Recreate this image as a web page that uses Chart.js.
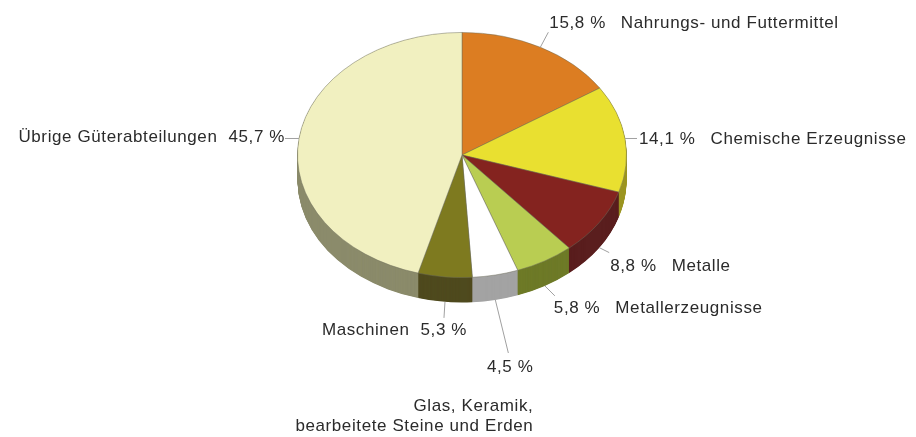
<!DOCTYPE html>
<html>
<head>
<meta charset="utf-8">
<script src="https://cdn.jsdelivr.net/npm/chart.js@4"></script>
<style>
  body { margin: 0; background: #fff; }
  #wrap { width: 916px; height: 437px; }
</style>
</head>
<body>
<div id="wrap"><canvas id="shareChart"></canvas></div>
<script>
// Anteile der Güterabteilungen (%)
const categories = [
    'Nahrungs- und Futtermittel',
    'Chemische Erzeugnisse',
    'Metalle',
    'Metallerzeugnisse',
    ['Glas, Keramik,', 'bearbeitete Steine und Erden'],
    'Maschinen',
    'Übrige Güterabteilungen'
];
const shares = [15.8, 14.1, 8.8, 5.8, 4.5, 5.3, 45.7];
const valueLabels = shares.map(v => v.toFixed(1).replace('.', ',') + ' %');

const topColors = ['#dc7d22', '#e9e030', '#84231f', '#b9cd52', '#ffffff', '#7e7a1f', '#f1f0c0'];
const sideColors = ['#9a5a1a', '#9c9520', '#5a1e1e', '#6e7a28', '#a3a3a3', '#4f4a1e', '#8b8b6b'];

// 3D look
const TILT = 0.745;   // vertical squash of the top face
const TOP_Y = 155;    // screen y of pie centre
const DEPTH = 25;     // side wall height in px

// where each label goes, relative to the slice edge
const labelLayout = [
    { dx: 8, dy: -15, side: 'right', tx: 1, ty: -9 },
    { dx: 12, dy: 0, side: 'right', tx: 2, ty: 1 },
    { dx: 10, dy: 5, side: 'right', tx: 1, ty: 14 },
    { dx: 10, dy: 10, side: 'right', tx: -1, ty: 12 },
    { dx: 13, dy: 53, side: 'below', tx: 25, ty: 14 },
    { dx: -1, dy: 16, side: 'left', tx: 23, ty: 12 },
    { dx: -14, dy: 0, side: 'left', tx: 0, ty: -1 }
];

function squash(ctx, cy) {
    ctx.translate(0, TOP_Y);
    ctx.scale(1, TILT);
    ctx.translate(0, -cy);
}

const pie3d = {
    id: 'pie3d',
    beforeDatasetsDraw(chart) {
        const ctx = chart.ctx;
        const arcs = chart.getDatasetMeta(0).data;
        ctx.save();
        squash(ctx, arcs[0].y);
        // side walls: stack darker copies downwards
        for (let d = DEPTH; d >= 0.5; d -= 0.5) {
            arcs.forEach((arc, i) => {
                const y = arc.y + d / TILT;
                ctx.beginPath();
                ctx.moveTo(arc.x, y);
                ctx.arc(arc.x, y, arc.outerRadius, arc.startAngle, arc.endAngle);
                ctx.closePath();
                ctx.fillStyle = sideColors[i];
                ctx.fill();
            });
        }
        // top face is drawn by Chart.js under this transform
    },
    afterDatasetsDraw(chart) {
        const ctx = chart.ctx;
        ctx.restore();
        const arcs = chart.getDatasetMeta(0).data;
        ctx.save();
        ctx.font = '17px "Liberation Sans", Arial, sans-serif';
        ctx.letterSpacing = '0.6px';
        ctx.fillStyle = '#2b2b2b';
        ctx.textBaseline = 'middle';
        arcs.forEach((arc, i) => {
            const mid = (arc.startAngle + arc.endAngle) / 2;
            const sx = arc.x + arc.outerRadius * Math.cos(mid);
            let sy = TOP_Y + arc.outerRadius * TILT * Math.sin(mid);
            if (Math.sin(mid) > 0) sy += DEPTH;
            const L = labelLayout[i];
            const ex = sx + L.dx, ey = sy + L.dy;
            ctx.strokeStyle = '#a0a0a0';
            ctx.lineWidth = 1;
            ctx.beginPath();
            ctx.moveTo(sx, sy);
            ctx.lineTo(ex, ey);
            ctx.stroke();
            const tx = ex + L.tx, ty = ey + L.ty;
            const name = categories[i];
            if (L.side === 'right') {
                ctx.textAlign = 'left';
                ctx.fillText(valueLabels[i], tx, ty);
                ctx.fillText(name, tx + ctx.measureText(valueLabels[i]).width + 15, ty);
            } else if (L.side === 'left') {
                ctx.textAlign = 'right';
                ctx.fillText(valueLabels[i], tx, ty);
                ctx.fillText(name, tx - ctx.measureText(valueLabels[i]).width - 11, ty);
            } else {
                ctx.textAlign = 'right';
                ctx.fillText(valueLabels[i], tx, ty);
                name.forEach((line, k) => ctx.fillText(line, tx, ty + 39 + k * 20));
            }
        });
        ctx.restore();
    }
};

const ctx = document.getElementById('shareChart').getContext('2d');
new Chart(ctx, {
    type: 'pie',
    data: {
        labels: categories,
        datasets: [{
            data: shares,
            backgroundColor: topColors,
            borderColor: 'rgba(110,110,90,0.55)',
            borderWidth: 1,
            clip: false
        }]
    },
    options: {
        responsive: true,
        maintainAspectRatio: false,
        animation: false,
        layout: { padding: { left: 297, right: 289, top: 50, bottom: 57 } },
        plugins: {
            legend: { display: false },
            tooltip: { enabled: false }
        }
    },
    plugins: [pie3d]
});
</script>
</body>
</html>
